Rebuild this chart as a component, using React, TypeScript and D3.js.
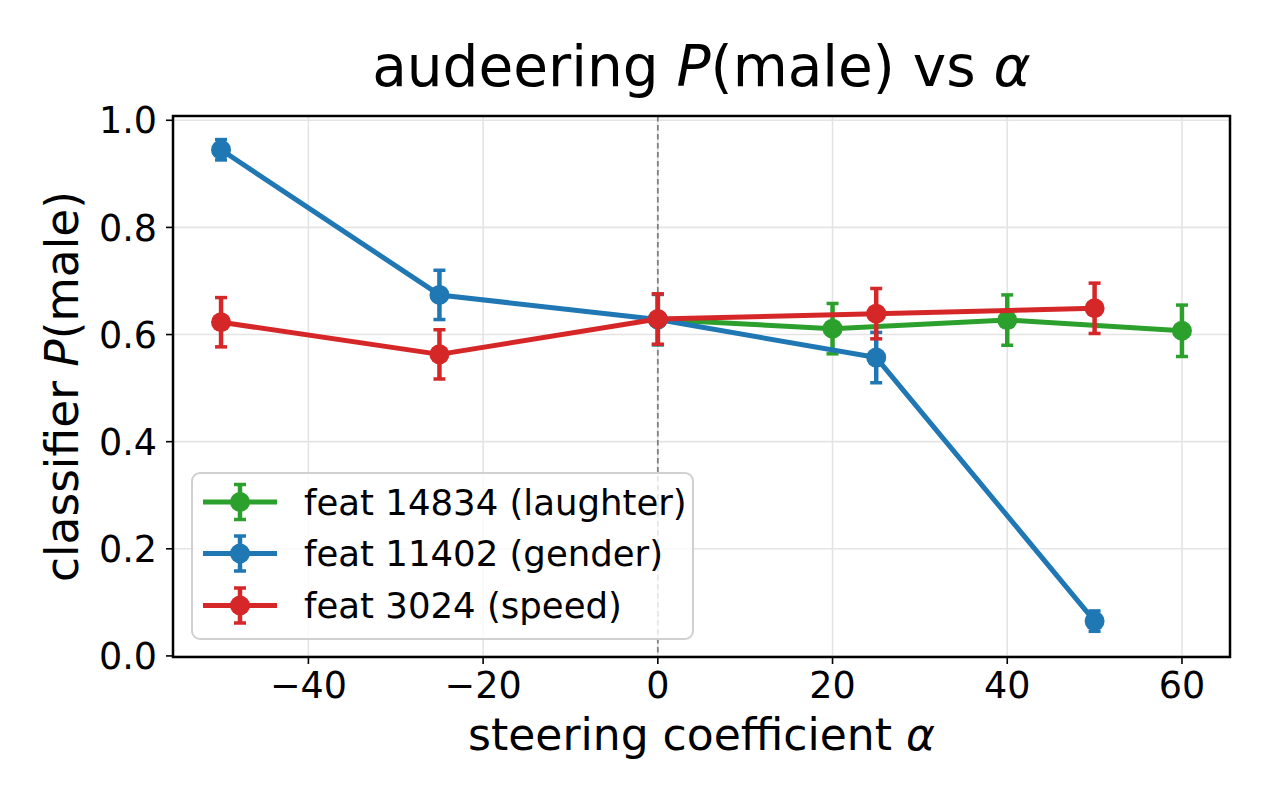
import React from "react";
import * as d3 from "d3";

// --- data ---
const laughterAlpha = [0, 20, 40, 60];
const laughterP = [0.628, 0.611, 0.627, 0.607];
const laughterErr = [0.047, 0.047, 0.047, 0.048];

const genderAlpha = [-50, -25, 0, 25, 50];
const genderP = [0.945, 0.674, 0.628, 0.557, 0.065];
const genderErr = [0.019, 0.046, 0.047, 0.047, 0.019];

const speedAlpha = [-50, -25, 0, 25, 50];
const speedP = [0.623, 0.563, 0.629, 0.639, 0.649];
const speedErr = [0.046, 0.046, 0.047, 0.047, 0.047];

const xTicks = [-40, -20, 0, 20, 40, 60];
const yTicks = [0.0, 0.2, 0.4, 0.6, 0.8, 1.0];

const seriesNames = ["feat 14834 (laughter)", "feat 11402 (gender)", "feat 3024 (speed)"];
const seriesColors = ["#2ca02c", "#1f77b4", "#d62728"];

const W = 1275;
const H = 810;
const margin = { top: 116, right: 45, bottom: 153, left: 173 };
const FONT = "'DejaVu Sans', sans-serif";

export default function App() {
  const x = d3.scaleLinear().domain([-55.5, 65.5]).range([margin.left, W - margin.right]);
  const y = d3.scaleLinear().domain([-0.002, 1.008]).range([H - margin.bottom, margin.top]);

  const series = [
    { xs: laughterAlpha, ys: laughterP, es: laughterErr },
    { xs: genderAlpha, ys: genderP, es: genderErr },
    { xs: speedAlpha, ys: speedP, es: speedErr },
  ].map((s, i) => ({
    name: seriesNames[i],
    color: seriesColors[i],
    pts: s.xs.map((a, j) => ({ a, p: s.ys[j], e: s.es[j] })),
  }));

  const line = d3.line<{ a: number; p: number }>().x(d => x(d.a)).y(d => y(d.p));

  const [x0, x1] = x.range();
  const [y0, y1] = y.range(); // y0 bottom, y1 top
  const cx = (x0 + x1) / 2;
  const cy = (y0 + y1) / 2;

  const lw = 5;
  const cap = 6;
  const r = 10;

  // legend layout
  const lg = { x: 192, y: 473, w: 501, h: 166 };
  const rowY = [502, 553.5, 605.5];

  return (
    <svg width={W} height={H} style={{ display: "block", position: "absolute", left: 0, top: 0 }} fontFamily={FONT}>
      <rect width={W} height={H} fill="#fff" />

      {/* grid */}
      <g stroke="#e4e4e4" strokeWidth={1.6}>
        {xTicks.map(t => (
          <line key={"gx" + t} x1={x(t)} x2={x(t)} y1={y1} y2={y0} />
        ))}
        {yTicks.map(t => (
          <line key={"gy" + t} x1={x0} x2={x1} y1={y(t)} y2={y(t)} />
        ))}
      </g>

      {/* alpha = 0 reference */}
      <line x1={x(0)} x2={x(0)} y1={y1} y2={y0} stroke="#808080" strokeWidth={1.8} strokeDasharray="5.5,3.5" />

      {/* series */}
      {series.map(s => (
        <g key={s.name}>
          <path d={line(s.pts) || ""} fill="none" stroke={s.color} strokeWidth={lw} strokeLinejoin="round" />
          {s.pts.map((d, j) => (
            <g key={j} stroke={s.color} strokeWidth={3.5}>
              <line x1={x(d.a)} x2={x(d.a)} y1={y(d.p - d.e)} y2={y(d.p + d.e)} strokeWidth={4.5} />
              <line x1={x(d.a) - cap} x2={x(d.a) + cap} y1={y(d.p - d.e)} y2={y(d.p - d.e)} />
              <line x1={x(d.a) - cap} x2={x(d.a) + cap} y1={y(d.p + d.e)} y2={y(d.p + d.e)} />
              <circle cx={x(d.a)} cy={y(d.p)} r={r} fill={s.color} stroke="none" />
            </g>
          ))}
        </g>
      ))}

      {/* spines */}
      <rect x={x0} y={y1} width={x1 - x0} height={y0 - y1} fill="none" stroke="#000" strokeWidth={2.5} />

      {/* ticks */}
      <g fontSize={36.5} fill="#000">
        {xTicks.map(t => (
          <g key={"xt" + t}>
            <line x1={x(t)} x2={x(t)} y1={y0} y2={y0 + 7} stroke="#000" strokeWidth={1.6} />
            <text x={x(t)} y={y0 + 41} textAnchor="middle">
              {t < 0 ? "\u2212" + Math.abs(t) : String(t)}
            </text>
          </g>
        ))}
        {yTicks.map(t => (
          <g key={"yt" + t}>
            <line x1={x0 - 7} x2={x0} y1={y(t)} y2={y(t)} stroke="#000" strokeWidth={1.6} />
            <text x={x0 - 16} y={y(t)} dy="0.36em" textAnchor="end">
              {d3.format(".1f")(t)}
            </text>
          </g>
        ))}
      </g>

      {/* axis labels */}
      <text x={cx} y={750} textAnchor="middle" fontSize={44}>
        steering coefficient <tspan fontStyle="italic">α</tspan>
      </text>
      <text transform={`translate(78,${cy}) rotate(-90)`} textAnchor="middle" fontSize={45.5}>
        classifier <tspan fontStyle="italic">P</tspan>(male)
      </text>

      {/* title */}
      <text x={cx} y={86} textAnchor="middle" fontSize={56.5}>
        audeering <tspan fontStyle="italic">P</tspan>(male) vs <tspan fontStyle="italic">α</tspan>
      </text>

      {/* legend */}
      <rect x={lg.x} y={lg.y} width={lg.w} height={lg.h} rx={8} fill="#fff" fillOpacity={0.8} stroke="#d0d0d0" strokeWidth={2} />
      {series.map((s, i) => (
        <g key={"lg" + i} stroke={s.color}>
          <line x1={203} x2={277} y1={rowY[i]} y2={rowY[i]} strokeWidth={lw} />
          <line x1={240} x2={240} y1={rowY[i] - 17.5} y2={rowY[i] + 17.5} strokeWidth={4.5} />
          <line x1={240 - cap} x2={240 + cap} y1={rowY[i] - 17.5} y2={rowY[i] - 17.5} strokeWidth={3.5} />
          <line x1={240 - cap} x2={240 + cap} y1={rowY[i] + 17.5} y2={rowY[i] + 17.5} strokeWidth={3.5} />
          <circle cx={240} cy={rowY[i]} r={r} fill={s.color} stroke="none" />
          <text x={304} y={rowY[i]} dy="0.36em" fontSize={35.5} fill="#000" stroke="none">
            {s.name}
          </text>
        </g>
      ))}
    </svg>
  );
}
